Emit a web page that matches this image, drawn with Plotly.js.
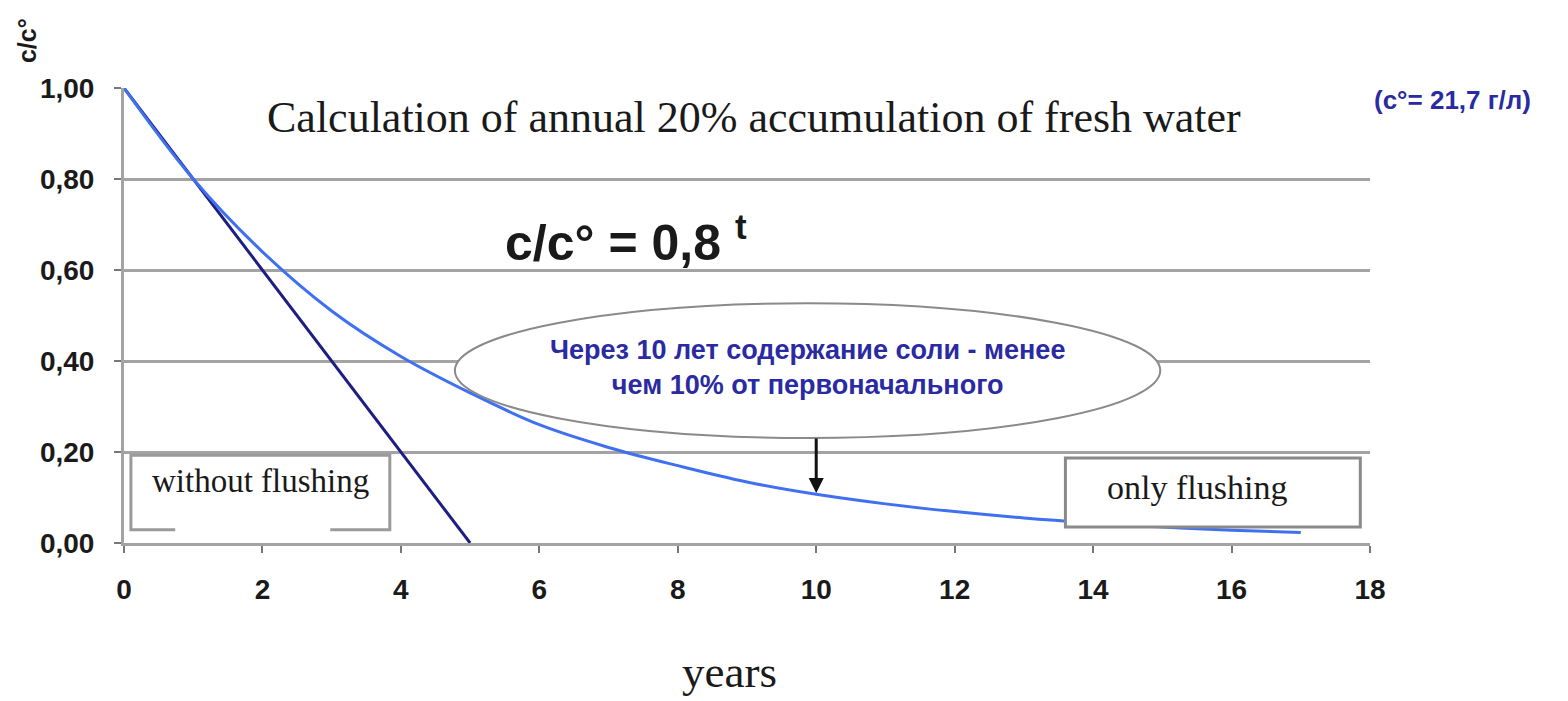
<!DOCTYPE html>
<html>
<head>
<meta charset="utf-8">
<script src="https://cdn.plot.ly/plotly-3.0.1.min.js"></script>
<style>html,body{margin:0;padding:0;background:#fff;}#chart{width:1568px;height:701px;}</style>
</head>
<body>
<div id="chart"></div>
<script>
// Data
const years = [0, 1, 2, 3, 4, 5, 6, 7, 8, 9, 10, 11, 12, 13, 14, 15, 16, 17];
const onlyFlushing = [1.00, 0.80, 0.64, 0.51, 0.41, 0.33, 0.26, 0.21, 0.17, 0.134, 0.107, 0.086, 0.069, 0.055, 0.044, 0.035, 0.028, 0.023];
const yearsNoFlush = [0, 1, 2, 3, 4, 5];
const withoutFlushing = [1.00, 0.80, 0.60, 0.40, 0.20, 0.00];
const xTicks = [0, 2, 4, 6, 8, 10, 12, 14, 16, 18];
const yTicks = [0, 0.2, 0.4, 0.6, 0.8, 1.0];
const yTickLabels = ["0,00", "0,20", "0,40", "0,60", "0,80", "1,00"];

const boldSans = "Liberation Sans, Arial, sans-serif";
const serif = "Liberation Serif, Times New Roman, serif";
const textBlue = "#2a2aa2";
const gridGray = "#a3a3a3";

const traces = [
  {x: yearsNoFlush, y: withoutFlushing, mode: "lines", name: "without flushing",
   line: {color: "#1e1e82", width: 3}},
  {x: years, y: onlyFlushing, mode: "lines", name: "only flushing",
   line: {color: "#3f70f2", width: 3, shape: "spline", smoothing: 1}}
];

const layout = {
  width: 1568, height: 701,
  paper_bgcolor: "#ffffff", plot_bgcolor: "#ffffff",
  margin: {l: 124, r: 198, t: 88, b: 158},
  showlegend: false,
  xaxis: {
    range: [0, 18], tickvals: xTicks, ticktext: xTicks.map(String),
    showgrid: false, zeroline: false,
    showline: true, linecolor: gridGray, linewidth: 3,
    ticks: "outside", ticklen: 7, tickwidth: 2, tickcolor: "#777",
    ticklabelstandoff: 12,
    tickfont: {family: boldSans, size: 28, color: "#1a1a1a", weight: "bold"}
  },
  yaxis: {
    range: [0, 1], tickvals: yTicks, ticktext: yTickLabels,
    showgrid: true, gridcolor: gridGray, gridwidth: 3,
    zeroline: false,
    showline: true, linecolor: gridGray, linewidth: 3,
    ticks: "outside", ticklen: 7, tickwidth: 2, tickcolor: "#777",
    ticklabelstandoff: 14,
    tickfont: {family: boldSans, size: 28, color: "#1a1a1a", weight: "bold"}
  },
  shapes: [
    // ellipse callout
    {type: "circle", xref: "x", yref: "y", x0: 4.78, x1: 14.97, y0: 0.231, y1: 0.527,
     line: {color: "#8a8a8a", width: 2}, fillcolor: "#ffffff", layer: "above"},
    // "without flushing" box (bottom edge partially open)
    {type: "path", xref: "x", yref: "y",
     path: "M 0.74 0.029 L 0.1 0.029 L 0.1 0.193 L 3.84 0.193 L 3.84 0.029 L 2.98 0.029",
     line: {color: "#9a9a9a", width: 3}, layer: "above"},
    // "only flushing" box
    {type: "rect", xref: "x", yref: "y", x0: 13.6, x1: 17.86, y0: 0.035, y1: 0.187,
     line: {color: "#8a8a8a", width: 3}, fillcolor: "#ffffff", layer: "above"}
  ],
  annotations: [
    {xref: "paper", yref: "paper", x: -0.078, y: 1.105, text: "c/c°", textangle: -90,
     showarrow: false, xanchor: "center", yanchor: "middle",
     font: {family: boldSans, size: 25, color: "#1a1a1a", weight: "bold"}},
    {xref: "x", yref: "y", x: 9.1, y: 0.935, text: "Calculation of annual 20% accumulation of fresh water",
     showarrow: false, font: {family: serif, size: 44, color: "#1a1a1a"}},
    {xref: "paper", yref: "paper", x: 1.066, y: 0.974, text: "(c°= 21,7 г/л)",
     showarrow: false, xanchor: "center", yanchor: "middle",
     font: {family: boldSans, size: 26, color: textBlue, weight: "bold"}},
    {xref: "x", yref: "y", x: 7.25, y: 0.668, text: "c/c° = 0,8 <sup>t</sup>",
     showarrow: false, font: {family: boldSans, size: 50, color: "#1a1a1a", weight: "bold"}},
    {xref: "x", yref: "y", x: 9.87, y: 0.385,
     text: "Через 10 лет содержание соли - менее<br>чем 10% от первоначального",
     showarrow: false, align: "center",
     font: {family: boldSans, size: 27, color: textBlue, weight: "bold"}},
    {xref: "x", yref: "y", x: 10, y: 0.11, ax: 0, ay: -56, text: "",
     showarrow: true, arrowhead: 2, arrowsize: 1, arrowwidth: 3, arrowcolor: "#111"},
    {xref: "x", yref: "y", x: 1.97, y: 0.136, text: "without flushing",
     showarrow: false, font: {family: serif, size: 33, color: "#1a1a1a"}},
    {xref: "x", yref: "y", x: 15.5, y: 0.123, text: "only flushing",
     showarrow: false, font: {family: serif, size: 34, color: "#1a1a1a"}},
    {xref: "paper", yref: "paper", x: 0.486, y: -0.283, text: "years",
     showarrow: false, xanchor: "center", yanchor: "middle",
     font: {family: serif, size: 45, color: "#1a1a1a"}}
  ]
};

Plotly.newPlot("chart", traces, layout, {displayModeBar: false, staticPlot: true});
</script>
</body>
</html>
